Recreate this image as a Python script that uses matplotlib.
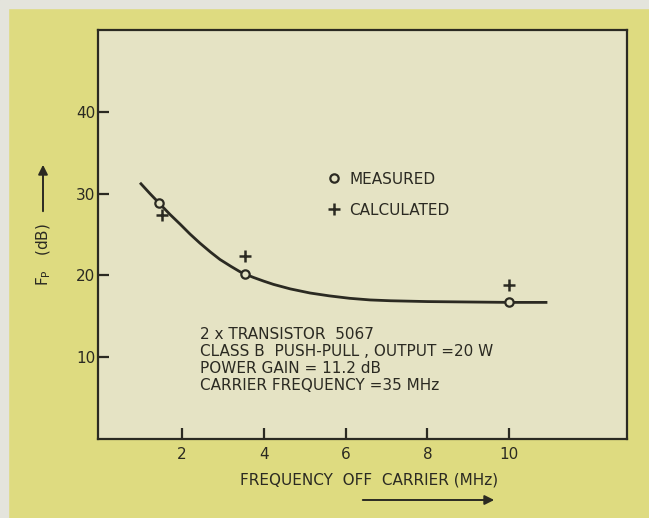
import numpy as np
import matplotlib.pyplot as plt

# Fp versus frequency off carrier, 2 x transistor 5067 push-pull stage
curve_x = [1.0, 1.22, 1.45, 1.7, 1.96, 2.2, 2.44, 2.7, 2.93, 3.2, 3.42, 3.55, 3.75,
           4.0, 4.24, 4.65, 5.13, 5.6, 6.1, 6.6, 7.1, 8.0, 9.0, 10.0, 10.9]
curve_y = [31.2, 30.0, 28.8, 27.5, 26.25, 25.05, 23.95, 22.85, 21.95, 21.1, 20.45, 20.15, 19.75,
           19.3, 18.9, 18.35, 17.85, 17.5, 17.2, 17.0, 16.9, 16.8, 16.75, 16.7, 16.7]

meas_x = [1.45, 3.55, 10.0]
meas_y = [28.8, 20.2, 16.7]

calc_x = [1.52, 3.55, 10.0]
calc_y = [27.4, 22.4, 18.8]

xticks = [2, 4, 6, 8, 10]
yticks = [10, 20, 30, 40]

notes = ["2 x TRANSISTOR  5067",
         "CLASS B  PUSH-PULL , OUTPUT =20 W",
         "POWER GAIN = 11.2 dB",
         "CARRIER FREQUENCY =35 MHz"]

ink = "#2b2a22"
paper = "#e5e3c4"
page = "#dedb80"

plt.rcParams['font.family'] = ['DejaVu Sans']
plt.rcParams['font.size'] = 11

W, H = 649, 518
fig = plt.figure(figsize=(W / 100, H / 100), dpi=100)
fig.patch.set_facecolor(page)

# light strip of the page edge along top and left
fig.patches.append(plt.Rectangle((0, 0), 8 / W, 1, transform=fig.transFigure,
                                 color="#e4e4dc", zorder=0))
fig.patches.append(plt.Rectangle((0, 1 - 8 / H), 1, 8 / H, transform=fig.transFigure,
                                 color="#e4e4dc", zorder=0))

ax = fig.add_axes([98 / W, (H - 439) / H, (627 - 98) / W, (439 - 30) / H])
ax.set_facecolor(paper)
ax.set_xlim(-0.05, 12.88)
ax.set_ylim(0, 50)

ax.plot(curve_x, curve_y, color=ink, lw=2.0, zorder=2, solid_joinstyle="round")
ax.plot(meas_x, meas_y, ls="none", marker="o", ms=6, mfc=paper, mec=ink, mew=1.6,
        zorder=3, label="MEASURED")
ax.plot(calc_x, calc_y, ls="none", marker="+", ms=8, mec=ink, mew=1.8,
        zorder=3, label="CALCULATED")

leg = ax.legend(loc="upper left", bbox_to_anchor=(0.412, 0.687), frameon=False,
                handlelength=0.6, handletextpad=0.7, labelspacing=1.05,
                prop={"size": 11})
for t in leg.get_texts():
    t.set_color(ink)

ax.text(2.45, 13.7, "\n".join(notes), va="top", ha="left", color=ink,
        fontsize=11, linespacing=1.16)

for s in ax.spines.values():
    s.set_linewidth(1.6)
    s.set_color(ink)

ax.set_xticks(xticks)
ax.set_yticks(yticks)
ax.tick_params(direction="in", length=8, width=1.6, color=ink, labelcolor=ink)
ax.tick_params(axis="x", pad=6)
ax.tick_params(axis="y", pad=2)

ax.set_xlabel("FREQUENCY  OFF  CARRIER (MHz)", color=ink, labelpad=7)
ax.xaxis.label.set_x(0.512)
ax.set_ylabel(r"F$_\mathrm{P}$   (dB)", color=ink)
ax.yaxis.set_label_coords(-0.086, 0.45)

# direction arrows beside the axis titles
ax.annotate("", xy=(497, H - 500), xytext=(360, H - 500), xycoords="figure pixels",
            textcoords="figure pixels",
            arrowprops=dict(arrowstyle="-|>", color=ink, lw=1.4, mutation_scale=14))
ax.annotate("", xy=(43, H - 162), xytext=(43, H - 214), xycoords="figure pixels",
            textcoords="figure pixels",
            arrowprops=dict(arrowstyle="-|>", color=ink, lw=1.4, mutation_scale=14))

fig.savefig("out.png", dpi=100, facecolor=fig.get_facecolor())
